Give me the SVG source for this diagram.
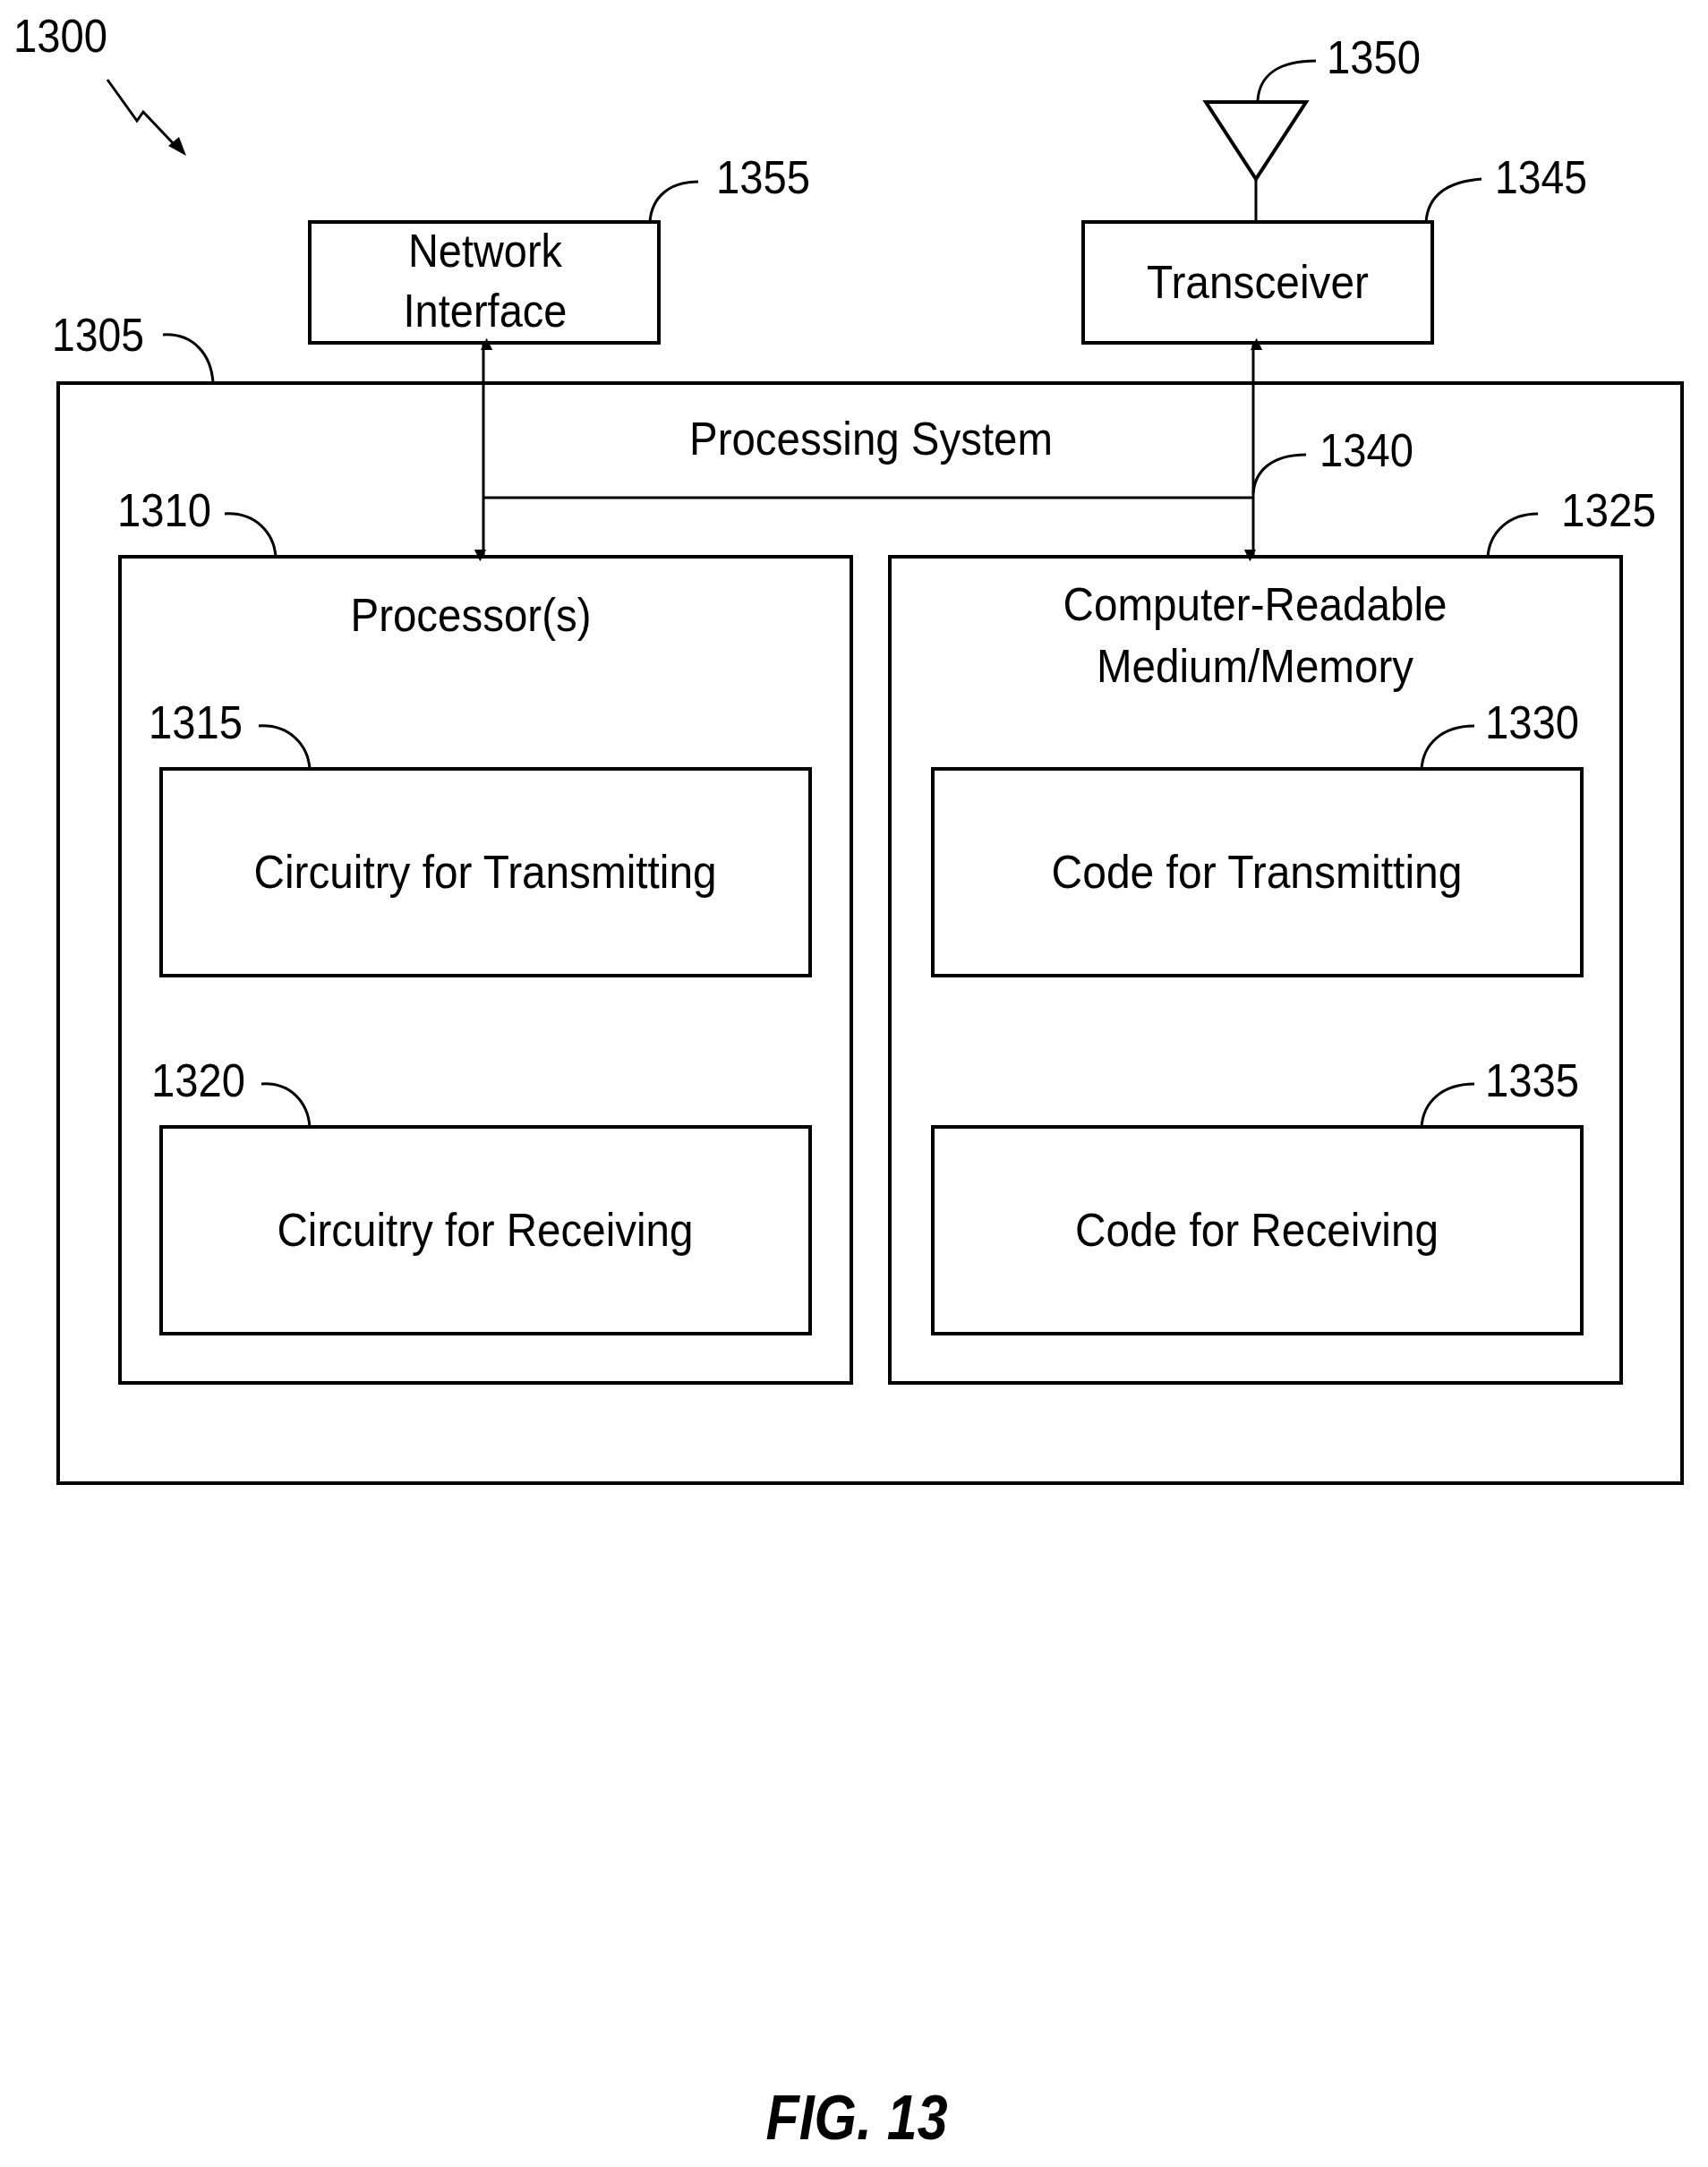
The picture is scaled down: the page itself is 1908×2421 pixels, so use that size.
<svg xmlns="http://www.w3.org/2000/svg" width="1908" height="2421" viewBox="0 0 1908 2421">
<style>
text{font-family:"Liberation Sans",Arial,sans-serif;font-size:52px;fill:#000}
.m{text-anchor:middle}
.b{fill:none;stroke:#000;stroke-width:4}
.l{fill:none;stroke:#000;stroke-width:3}
</style>
<defs>
<marker id="ah" viewBox="0 0 10 10" refX="10" refY="5" markerWidth="6" markerHeight="6" orient="auto-start-reverse" markerUnits="userSpaceOnUse" style="overflow:visible">
<path d="M0,0 L10,5 L0,10 z" transform="scale(2.2)" fill="#000"/>
</marker>
</defs>
<rect width="1908" height="2421" fill="#fff"/>
<g id="fig-ref">
<text x="15" y="58" textLength="105" lengthAdjust="spacingAndGlyphs">1300</text>
<polyline class="l" points="120,89 153,135 160,125 198,165"/>
<path d="M208,174 L188,163 L200,153 z" fill="#000"/>
</g>
<g id="n1305">
<rect class="b" x="65" y="428" width="1814" height="1229"/>
<text class="m" x="973" y="508" textLength="406" lengthAdjust="spacingAndGlyphs">Processing System</text>
<text x="58" y="392" textLength="103" lengthAdjust="spacingAndGlyphs">1305</text>
<path class="l" d="M182,374 C215,372 236,395 238,428"/>
</g>
<g id="n1355">
<rect class="b" x="346" y="248" width="390" height="135"/>
<text class="m" x="542" y="298" textLength="172" lengthAdjust="spacingAndGlyphs">Network</text>
<text class="m" x="542" y="365" textLength="183" lengthAdjust="spacingAndGlyphs">Interface</text>
<text x="800" y="216" textLength="105" lengthAdjust="spacingAndGlyphs">1355</text>
<path class="l" d="M726,248 C728,220 748,203 780,203"/>
</g>
<g id="n1345">
<rect class="b" x="1210" y="248" width="390" height="135"/>
<text class="m" x="1405" y="333" textLength="248" lengthAdjust="spacingAndGlyphs">Transceiver</text>
<text x="1670" y="216" textLength="103" lengthAdjust="spacingAndGlyphs">1345</text>
<path class="l" d="M1593,248 C1595,220 1615,203 1655,200"/>
</g>
<g id="n1350">
<path class="b" d="M1347,114 L1459,114 L1403,200 z"/>
<line class="l" x1="1403" y1="200" x2="1403" y2="248"/>
<text x="1482" y="82" textLength="105" lengthAdjust="spacingAndGlyphs">1350</text>
<path class="l" d="M1405,112 C1407,85 1427,68 1470,68"/>
</g>
<g id="n1310">
<rect class="b" x="134" y="622" width="817" height="923"/>
<text class="m" x="526" y="705" textLength="269" lengthAdjust="spacingAndGlyphs">Processor(s)</text>
<text x="131" y="588" textLength="105" lengthAdjust="spacingAndGlyphs">1310</text>
<path class="l" d="M251,574 C285,572 306,595 308,622"/>
</g>
<g id="n1325">
<rect class="b" x="994" y="622" width="817" height="923"/>
<text class="m" x="1402" y="693" textLength="429" lengthAdjust="spacingAndGlyphs">Computer-Readable</text>
<text class="m" x="1402" y="762" textLength="354" lengthAdjust="spacingAndGlyphs">Medium/Memory</text>
<text x="1744" y="588" textLength="106" lengthAdjust="spacingAndGlyphs">1325</text>
<path class="l" d="M1662,622 C1664,595 1685,574 1718,574"/>
</g>
<g id="n1315">
<rect class="b" x="180" y="859" width="725" height="231"/>
<text class="m" x="542" y="992" textLength="517" lengthAdjust="spacingAndGlyphs">Circuitry for Transmitting</text>
<text x="166" y="825" textLength="105" lengthAdjust="spacingAndGlyphs">1315</text>
<path class="l" d="M289,811 C323,809 344,832 346,859"/>
</g>
<g id="n1320">
<rect class="b" x="180" y="1259" width="725" height="231"/>
<text class="m" x="542" y="1392" textLength="465" lengthAdjust="spacingAndGlyphs">Circuitry for Receiving</text>
<text x="169" y="1225" textLength="105" lengthAdjust="spacingAndGlyphs">1320</text>
<path class="l" d="M292,1211 C325,1209 344,1232 346,1259"/>
</g>
<g id="n1330">
<rect class="b" x="1042" y="859" width="725" height="231"/>
<text class="m" x="1404" y="992" textLength="459" lengthAdjust="spacingAndGlyphs">Code for Transmitting</text>
<text x="1659" y="825" textLength="105" lengthAdjust="spacingAndGlyphs">1330</text>
<path class="l" d="M1588,859 C1590,832 1610,811 1647,811"/>
</g>
<g id="n1335">
<rect class="b" x="1042" y="1259" width="725" height="231"/>
<text class="m" x="1404" y="1392" textLength="406" lengthAdjust="spacingAndGlyphs">Code for Receiving</text>
<text x="1659" y="1225" textLength="105" lengthAdjust="spacingAndGlyphs">1335</text>
<path class="l" d="M1588,1259 C1590,1232 1610,1211 1647,1211"/>
</g>
<g id="connectors">
<line class="l" x1="540" y1="385" x2="540" y2="620" marker-start="url(#ah)" marker-end="url(#ah)"/>
<line class="l" x1="1400" y1="385" x2="1400" y2="620" marker-start="url(#ah)" marker-end="url(#ah)"/>
<line class="l" x1="540" y1="556" x2="1400" y2="556"/>
<text x="1474" y="521" textLength="105" lengthAdjust="spacingAndGlyphs">1340</text>
<path class="l" d="M1400,551 C1402,525 1422,508 1459,508"/>
</g>
<text class="m" x="957" y="2390" style="font-size:70px;font-weight:bold;font-style:italic" textLength="203" lengthAdjust="spacingAndGlyphs">FIG. 13</text>
</svg>
